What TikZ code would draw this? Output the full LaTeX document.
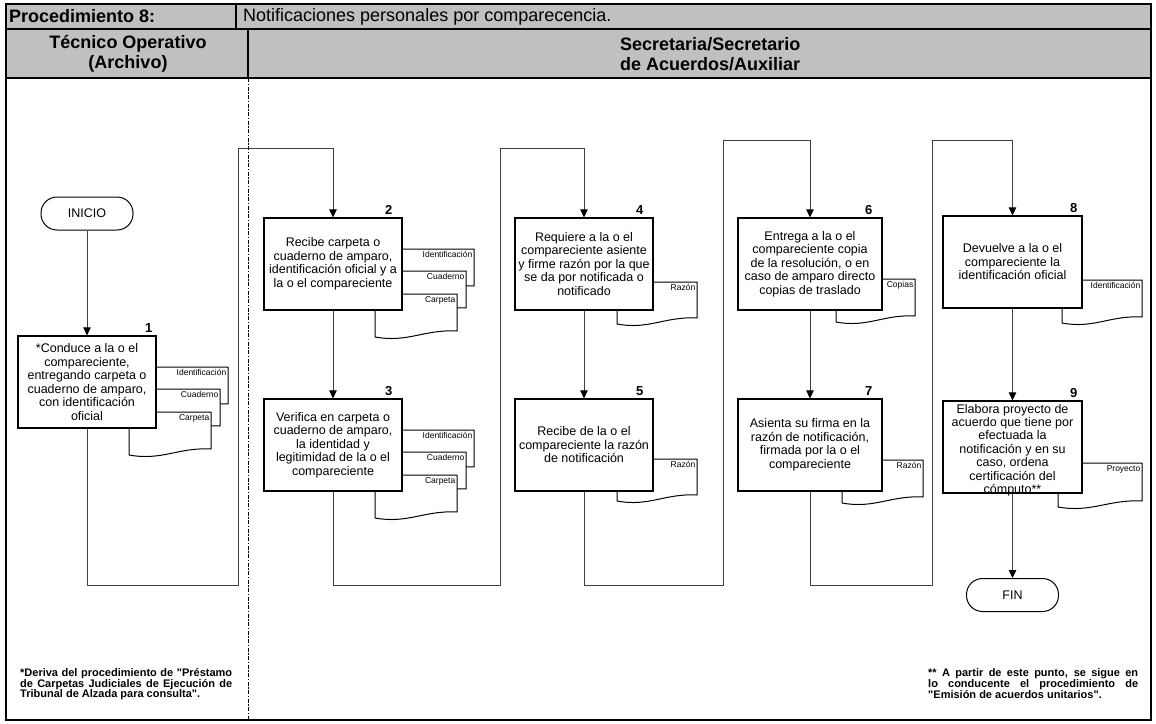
\documentclass[tikz,border=0pt]{standalone}
\usepackage{fontspec}
\setmainfont{Liberation Sans}[Ligatures=TeXOff]
\usetikzlibrary{arrows.meta}
\definecolor{hdrgray}{RGB}{192,192,192}

% paper document symbol: name, left, top, right, bottom (right edge), label
\newcommand\paperdoc[6]{%
  \draw[docline] (#2,#3) -- (#4,#3) -- (#4,#5)
    .. controls ({#2+0.6*(#4-#2)},{#5-1.8}) and ({#2+0.4*(#4-#2)},{#5+12}) .. (#2,{#5+6}) -- cycle;
  \node[doclabel, anchor=north east] (#1) at ({#4-1.5},{#3+2.5}) {#6};}

\begin{document}
\begin{tikzpicture}[x=1pt,y=-1pt,
  frameline/.style={line width=1.2pt},
  laneline/.style={line width=0.8pt, dash pattern=on 4pt off 1.5pt on 1.5pt off 1.5pt},
  header/.style={font=\fontsize{18}{19.5}\selectfont\bfseries, inner sep=0pt},
  steptext/.style={align=center, inner sep=1pt, font=\fontsize{12.5}{13.5}\selectfont},
  stepbox/.style={steptext, draw, line width=1.2pt, fill=white, minimum width=138pt, minimum height=92pt},
  stepno/.style={font=\fontsize{13}{13}\selectfont\bfseries, inner sep=0pt, anchor=south east},
  terminal/.style={draw, line width=1pt, fill=white, rounded corners=16pt, minimum width=92pt,
    minimum height=33pt, font=\fontsize{12.5}{13.5}\selectfont},
  flow/.style={draw=black!75, line width=0.8pt},
  arrowflow/.style={flow, -{Triangle[width=7.5pt,length=8pt,color=black]}},
  docline/.style={draw, line width=1pt, fill=white, line join=round},
  doclabel/.style={font=\fontsize{8.5}{9}\selectfont, inner sep=0pt},
  footnote/.style={font=\fontsize{11}{10.3}\selectfont\bfseries, text width=212pt,
    align=justify, inner sep=0pt, anchor=north west},
]
\useasboundingbox (0,0) rectangle (1156,723);

% header band and frame
\fill[hdrgray] (6,4) rectangle (1151,78);
\draw[frameline] (6,4) rectangle (1151,720);
\draw[frameline] (6,29) -- (1151,29);
\draw[frameline] (6,78) -- (1151,78);
\draw[frameline] (236,4) -- (236,29);
\draw[frameline] (248,29) -- (248,78);
\draw[laneline] (248,78) -- (248,720);

\node[header, anchor=west] (proc) at (9,16.5) {Procedimiento 8:};
\node[font=\fontsize{18}{19.5}\selectfont, inner sep=0pt, anchor=west] (title) at (243,16.5)
  {Notificaciones personales por comparecencia.};
\node[header, align=center] (laneA) at (128,54) {Técnico Operativo\\(Archivo)};
\node[header, align=left, anchor=west] (laneB) at (620,54) {Secretaria/Secretario\\de Acuerdos/Auxiliar};

% documents behind the steps
\paperdoc{d1a}{146}{367}{228}{404}{Identificación}
\paperdoc{d1b}{138}{389}{220}{426}{Cuaderno}
\paperdoc{d1c}{129}{412}{211}{449}{Carpeta}

\paperdoc{d2a}{392}{249}{474}{286}{Identificación}
\paperdoc{d2b}{384}{271}{466}{308}{Cuaderno}
\paperdoc{d2c}{375}{294}{457}{331}{Carpeta}

\paperdoc{d3a}{392}{430}{474}{467}{Identificación}
\paperdoc{d3b}{384}{452}{466}{489}{Cuaderno}
\paperdoc{d3c}{375}{475}{457}{512}{Carpeta}

\paperdoc{d4}{617}{282}{697}{318}{Razón}
\paperdoc{d5}{617}{459}{697}{495}{Razón}
\paperdoc{d6}{836}{279}{915}{316}{Copias}
\paperdoc{d7}{842}{460}{923}{497}{Razón}
\paperdoc{d8}{1062}{280}{1142}{317}{Identificación}
\paperdoc{d9}{1058}{463}{1142}{501}{Proyecto}

% steps
\node[terminal] (start) at (87,213.5) {INICIO};
\node[stepbox] (n1) at (87,382) {*Conduce a la o el\\compareciente,\\entregando carpeta o\\cuaderno de amparo,\\con identificación\\oficial};
\node[stepbox] (n2) at (333,264) {Recibe carpeta o\\cuaderno de amparo,\\identificación oficial y a\\la o el compareciente};
\node[stepbox] (n3) at (333,445) {Verifica en carpeta o\\cuaderno de amparo,\\la identidad y\\legitimidad de la o el\\compareciente};
\node[stepbox] (n4) at (584,264) {Requiere a la o el\\compareciente asiente\\y firme razón por la que\\se da por notificada o\\notificado};
\node[stepbox] (n5) at (584,445) {Recibe de la o el\\compareciente la razón\\de notificación};
\node[stepbox, minimum width=144pt] (n6) at (810,264) {Entrega a la o el\\compareciente copia\\de la resolución, o en\\caso de amparo directo\\copias de traslado};
\node[stepbox, minimum width=144pt] (n7) at (810,445) {Asienta su firma en la\\razón de notificación,\\firmada por la o el\\compareciente};
\node[stepbox, minimum width=139pt] (n8) at (1012.5,262) {Devuelve a la o el\\compareciente la\\identificación oficial};
\node[stepbox, minimum width=139pt] (n9) at (1012.5,447) {};
\node[steptext, font=\fontsize{12.5}{13.4}\selectfont, yshift=-3pt] (n9t) at (n9.center)
  {Elabora proyecto de\\acuerdo que tiene por\\efectuada la\\notificación y en su\\caso, ordena\\certificación del\\cómputo**};
\node[terminal] (end) at (1012.5,595) {FIN};

% step numbers
\node[stepno, xshift=-4pt, yshift=3pt] (k1) at (n1.north east) {1};
\node[stepno, xshift=-10pt, yshift=3pt] (k2) at (n2.north east) {2};
\node[stepno, xshift=-10pt, yshift=3pt] (k3) at (n3.north east) {3};
\node[stepno, xshift=-10pt, yshift=3pt] (k4) at (n4.north east) {4};
\node[stepno, xshift=-10pt, yshift=3pt] (k5) at (n5.north east) {5};
\node[stepno, xshift=-10pt, yshift=3pt] (k6) at (n6.north east) {6};
\node[stepno, xshift=-10pt, yshift=3pt] (k7) at (n7.north east) {7};
\node[stepno, xshift=-5pt, yshift=3pt] (k8) at (n8.north east) {8};
\node[stepno, xshift=-5pt, yshift=3pt] (k9) at (n9.north east) {9};

% flow
\coordinate (c1a) at (238,585); \coordinate (c1b) at (238,148);
\coordinate (c2a) at (500,585); \coordinate (c2b) at (500,148);
\coordinate (c3a) at (723,585); \coordinate (c3b) at (723,140);
\coordinate (c4a) at (932,585); \coordinate (c4b) at (932,140);

\draw[arrowflow] (start) -- (n1);
\draw[arrowflow] (n1.south) |- (c1a) -- (c1b) -| (n2.north);
\draw[arrowflow] (n2) -- (n3);
\draw[arrowflow] (n3.south) |- (c2a) -- (c2b) -| (n4.north);
\draw[arrowflow] (n4) -- (n5);
\draw[arrowflow] (n5.south) |- (c3a) -- (c3b) -| (n6.north);
\draw[arrowflow] (n6) -- (n7);
\draw[arrowflow] (n7.south) |- (c4a) -- (c4b) -| (n8.north);
\draw[arrowflow] (n8) -- (n9);
\draw[arrowflow] (n9) -- (end);

% notes
\node[footnote] (fnA) at (20,668) {*Deriva del procedimiento de "Préstamo\linebreak de Carpetas Judiciales de Ejecución de\linebreak Tribunal de Alzada para consulta".};
\node[footnote, text width=210pt] (fnB) at (928,668) {** A partir de este punto, se sigue en\linebreak lo conducente el procedimiento de\linebreak "Emisión de acuerdos unitarios".};
\end{tikzpicture}
\end{document}
